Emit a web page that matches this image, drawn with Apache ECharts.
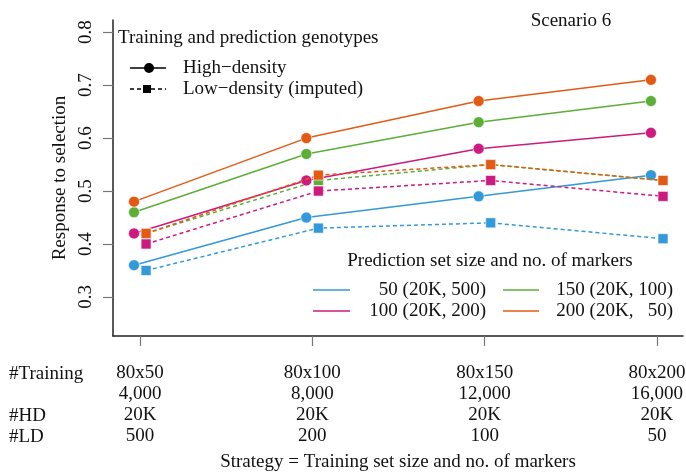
<!DOCTYPE html>
<html>
<head>
<meta charset="utf-8">
<script src="https://cdn.jsdelivr.net/npm/echarts@6/dist/echarts.min.js"></script>
<style>html,body{margin:0;padding:0;background:#fff}#c{width:686px;height:474px}</style>
</head>
<body>
<div id="c"></div>
<script>
const categories = ['80x50', '80x100', '80x150', '80x200'];
const trainingSizes = ['4,000', '8,000', '12,000', '16,000'];
const hdMarkers = ['20K', '20K', '20K', '20K'];
const ldMarkers = ['500', '200', '100', '50'];
const groupNames = ['50 (20K, 500)', '100 (20K, 200)', '150 (20K, 100)', '200 (20K,   50)'];
const groupColors = ['#3399DA', '#CC1A7E', '#5CAE38', '#E35A14'];
const yTicks = [0.3, 0.4, 0.5, 0.6, 0.7, 0.8];

// High-density (circles, solid)
const hd50 = [0.36, 0.45, 0.49, 0.53];
const hd100 = [0.42, 0.52, 0.58, 0.61];
const hd150 = [0.46, 0.57, 0.63, 0.67];
const hd200 = [0.48, 0.60, 0.67, 0.71];
// Low-density imputed (squares, dashed)
const ld50 = [0.35, 0.43, 0.44, 0.41];
const ld100 = [0.40, 0.50, 0.52, 0.49];
const ld150 = [0.42, 0.52, 0.55, 0.52];
const ld200 = [0.42, 0.53, 0.55, 0.52];

const hdAll = [hd50, hd100, hd150, hd200];
const ldAll = [ld50, ld100, ld150, ld200];
const dodge = 0.035;
const FONT = 'Liberation Serif';
const FS = 19;

const series = [];
hdAll.forEach((vals, g) => {
  series.push({
    type: 'line', name: groupNames[g] + ' HD',
    data: vals.map((v, i) => [i - dodge, v]),
    symbol: 'circle', symbolSize: 11,
    lineStyle: { color: groupColors[g], width: 1.5 },
    itemStyle: { color: groupColors[g], borderColor: '#fff', borderWidth: 0.6 },
    z: 3 + g
  });
});
ldAll.forEach((vals, g) => {
  series.push({
    type: 'line', name: groupNames[g] + ' LD',
    data: vals.map((v, i) => [i + dodge, v]),
    symbol: 'rect', symbolSize: 10,
    lineStyle: { color: groupColors[g], width: 1.5, type: [4, 3] },
    itemStyle: { color: groupColors[g], borderColor: '#fff', borderWidth: 0.6 },
    z: 2 + g
  });
});

function txt(x, y, text, align, size) {
  return { type: 'text', x: x, y: y, style: { text: text, font: (size || FS) + 'px ' + FONT, fill: '#111', align: align || 'left', textAlign: align || 'left', verticalAlign: 'middle', textVerticalAlign: 'middle' } };
}
function hline(x1, x2, y, color, dashed) {
  return { type: 'line', shape: { x1: x1, y1: y, x2: x2, y2: y }, style: { stroke: color, lineWidth: 1.5, lineDash: dashed ? [4, 3] : null } };
}

const graphic = [
  txt(571, 21, 'Scenario 6', 'center'),
  txt(118, 38, 'Training and prediction genotypes', 'left'),
  hline(130, 166, 68, '#000', false),
  { type: 'circle', shape: { cx: 149, cy: 68, r: 5 }, style: { fill: '#000' } },
  txt(183, 68, 'High\u2212density', 'left'),
  hline(130, 166, 89, '#000', true),
  { type: 'rect', shape: { x: 143, y: 85, width: 8, height: 8 }, style: { fill: '#000' } },
  txt(183, 89, 'Low\u2212density (imputed)', 'left'),
  txt(490, 261, 'Prediction set size and no. of markers', 'center'),
  hline(313, 350, 290, groupColors[0], false),
  txt(486, 290, groupNames[0], 'right'),
  hline(503, 539, 290, groupColors[2], false),
  txt(673, 290, groupNames[2], 'right'),
  hline(313, 350, 311, groupColors[1], false),
  txt(486, 311, groupNames[1], 'right'),
  hline(503, 539, 311, groupColors[3], false),
  txt(673, 311, groupNames[3], 'right'),
  txt(9, 374, '#Training', 'left'),
  txt(9, 416, '#HD', 'left'),
  txt(9, 437, '#LD', 'left')
];

const chart = echarts.init(document.getElementById('c'), null, { renderer: 'canvas' });
chart.setOption({
  animation: false,
  backgroundColor: '#fff',
  grid: { left: 113, right: 3, top: 20, bottom: 138, containLabel: false, outerBoundsMode: 'none' },
  xAxis: {
    type: 'value', min: -0.157, max: 3.151,
    name: 'Strategy = Training set size and no. of markers',
    nameLocation: 'middle', nameGap: 117,
    nameTextStyle: { fontFamily: FONT, fontSize: FS, color: '#111' },
    axisLine: { show: true, onZero: false, lineStyle: { color: '#222', width: 1.5 } },
    axisTick: { show: true, length: 10, customValues: [0, 1, 2, 3], lineStyle: { color: '#777', width: 1.2 } },
    axisLabel: {
      customValues: [0, 1, 2, 3], margin: 27,
      fontFamily: FONT, fontSize: FS, color: '#111', lineHeight: 21,
      formatter: function (v) {
        const i = Math.round(v);
        return [categories[i], trainingSizes[i], hdMarkers[i], ldMarkers[i]].join('\n');
      }
    },
    splitLine: { show: false }
  },
  yAxis: {
    type: 'value', min: 0.2263, max: 0.823,
    name: 'Response to selection', nameLocation: 'middle', nameGap: 38, nameRotate: 90,
    nameTextStyle: { fontFamily: FONT, fontSize: FS, color: '#111' },
    axisLine: { show: true, onZero: false, lineStyle: { color: '#222', width: 1.5 } },
    axisTick: { show: true, length: 10, customValues: yTicks, lineStyle: { color: '#777', width: 1.2 } },
    axisLabel: {
      customValues: yTicks, rotate: 90, margin: 17,
      fontFamily: FONT, fontSize: FS, color: '#111',
      formatter: function (v) { return v.toFixed(1); }
    },
    splitLine: { show: false }
  },
  graphic: graphic,
  series: series
});
</script>
</body>
</html>
